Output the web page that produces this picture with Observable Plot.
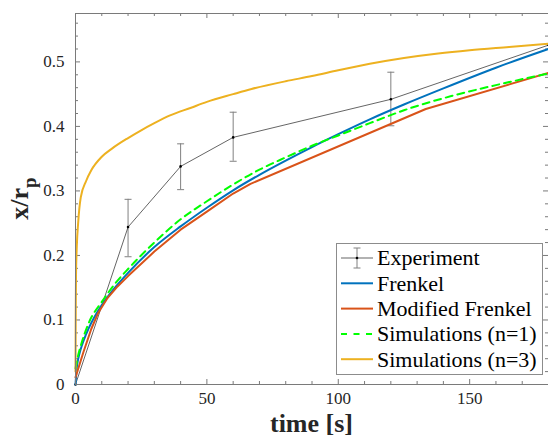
<!DOCTYPE html>
<html><head><meta charset="utf-8">
<script src="https://cdn.jsdelivr.net/npm/d3@7"></script>
<script src="https://cdn.jsdelivr.net/npm/@observablehq/plot@0.6"></script>
<style>body{margin:0;background:#fff} svg{display:block}</style>
</head><body><div id="chart"></div>
<script>
// ---- data ----
const expTime  = [0, 20, 40, 60, 120, 180];
const expValue = [0, 0.244, 0.338, 0.383, 0.442, 0.526];
const expLow   = [0, 0.198, 0.302, 0.346, 0.401, 0.476];
const expHigh  = [0, 0.287, 0.373, 0.422, 0.484, 0.576];

const frenkelTime  = [0, 0.5, 1, 2, 3, 5, 7, 10, 15, 20, 30, 40, 50, 60, 70, 80, 90, 100, 112, 125, 140, 160, 180];
const frenkelValue = [0, 0.027, 0.039, 0.055, 0.067, 0.087, 0.103, 0.123, 0.150, 0.173, 0.213, 0.245, 0.274, 0.301, 0.325, 0.347, 0.368, 0.388, 0.411, 0.434, 0.459, 0.491, 0.520];

const modTime  = [0, 3, 6, 8.5, 12, 16, 20, 30, 40, 50, 60, 66.6, 133.3, 180];
const modValue = [0.011, 0.05, 0.086, 0.11, 0.133, 0.152, 0.168, 0.206, 0.240, 0.268, 0.296, 0.311, 0.427, 0.483];

const sim1Time  = [0, 1, 2, 5, 10, 15, 20, 30, 40, 50, 60, 70, 80, 90, 100, 112, 125, 143, 160, 180];
const sim1Value = [0.025, 0.045, 0.06, 0.095, 0.128, 0.156, 0.179, 0.22, 0.256, 0.284, 0.31, 0.333, 0.352, 0.37, 0.386, 0.405, 0.425, 0.447, 0.464, 0.482];

const sim3Time  = [0, 0.1, 0.2, 0.5, 1, 2, 4, 6, 10, 14, 20, 25, 30, 36, 44, 50, 60, 67, 80, 90, 100, 112, 125, 138, 150, 165, 180];
const sim3Value = [0.02, 0.12, 0.17, 0.215, 0.25, 0.29, 0.315, 0.332, 0.353, 0.366, 0.382, 0.394, 0.405, 0.417, 0.429, 0.438, 0.45, 0.458, 0.47, 0.478, 0.487, 0.497, 0.506, 0.513, 0.518, 0.523, 0.528];

const xMajor = [0, 50, 100, 150];
const xMinor = [10, 20, 30, 40, 60, 70, 80, 90, 110, 120, 130, 140, 160, 170];
const yMajor = [0, 0.1, 0.2, 0.3, 0.4, 0.5];
const yMinor = [0.02, 0.04, 0.06, 0.08, 0.12, 0.14, 0.16, 0.18, 0.22, 0.24, 0.26, 0.28, 0.32, 0.34, 0.36, 0.38, 0.42, 0.44, 0.46, 0.48, 0.52, 0.54, 0.56];

const seriesNames = ["Experiment", "Frenkel", "Modified Frenkel", "Simulations (n=1)", "Simulations (n=3)"];
const seriesColors = ["#000000", "#0072BD", "#D95319", "#00FF00", "#EDB120"];

// ---- layout ----
const W = 548, H = 441, mL = 75, mR = 0, mT = 13, mB = 57;
const innerW = W - mL - mR, innerH = H - mT - mB;
const axisColor = "#7a7a7a";
const font = "'Liberation Serif', serif";

const rows = (ts, vs) => ts.map((t, i) => ({t, v: vs[i]}));
const expRows = expTime.map((t, i) => ({t, v: expValue[i], lo: expLow[i], hi: expHigh[i]}));
const capSymbol = {draw(ctx, size) { const r = Math.sqrt(size / Math.PI); ctx.moveTo(-r, 0); ctx.lineTo(r, 0); }};

const tickMarks = (len, data, dir) => {
  if (dir === "bottom") return Plot.ruleX(data, {x: d => d, insetTop: innerH - len, stroke: axisColor});
  if (dir === "top") return Plot.ruleX(data, {x: d => d, insetBottom: innerH - len, stroke: axisColor});
  if (dir === "left") return Plot.ruleY(data, {y: d => d, insetRight: innerW - len, stroke: axisColor});
  return Plot.ruleY(data, {y: d => d, insetLeft: innerW - len, stroke: axisColor});
};

const plot = Plot.plot({
  width: W, height: H,
  marginLeft: mL, marginRight: mR, marginTop: mT, marginBottom: mB,
  x: {domain: [0, 180]},
  y: {domain: [0, 0.575]},
  style: {fontFamily: font, fontSize: "17px", color: "#262626", background: "#fff"},
  marks: [
    tickMarks(5, xMajor, "bottom"), tickMarks(3, xMinor, "bottom"),
    tickMarks(5, xMajor, "top"), tickMarks(3, xMinor, "top"),
    tickMarks(5, yMajor, "left"), tickMarks(3, yMinor, "left"),
    tickMarks(5, yMajor, "right"), tickMarks(3, yMinor, "right"),
    Plot.axisX(xMajor, {tickSize: 0, tickPadding: 7, label: null, fontSize: 17, fontFamily: font, fill: "#262626", tickFormat: d => String(d)}),
    Plot.axisY(yMajor, {tickSize: 0, tickPadding: 11, label: null, fontSize: 17, fontFamily: font, fill: "#262626", tickFormat: d => String(d)}),
    // experiment
    Plot.ruleX(expRows, {x: "t", y1: "lo", y2: "hi", stroke: "#808080", strokeWidth: 1, clip: true}),
    Plot.dot(expRows, {x: "t", y: "lo", symbol: capSymbol, r: 3.5, stroke: "#808080", strokeWidth: 1, clip: true}),
    Plot.dot(expRows, {x: "t", y: "hi", symbol: capSymbol, r: 3.5, stroke: "#808080", strokeWidth: 1, clip: true}),
    Plot.line(expRows, {x: "t", y: "v", stroke: "#222", strokeWidth: 0.7}),
    Plot.dot(expRows, {x: "t", y: "v", r: 1.3, fill: "#000", stroke: null}),
    // models
    Plot.line(rows(frenkelTime, frenkelValue), {x: "t", y: "v", stroke: seriesColors[1], strokeWidth: 2, curve: "monotone-x"}),
    Plot.line(rows(modTime, modValue), {x: "t", y: "v", stroke: seriesColors[2], strokeWidth: 2}),
    Plot.line(rows(sim1Time, sim1Value), {x: "t", y: "v", stroke: seriesColors[3], strokeWidth: 2, strokeDasharray: "7,5", curve: "monotone-x"}),
    Plot.line(rows(sim3Time, sim3Value), {x: "t", y: "v", stroke: seriesColors[4], strokeWidth: 2, curve: "monotone-x"}),
    Plot.frame({stroke: axisColor, strokeWidth: 1})
  ]
});

const svg = d3.select(plot);
svg.style("font-family", font);

const addText = (sel) => sel.style("font-family", font).attr("text-anchor", "start");

// axis titles
addText(svg.append("text"))
  .attr("x", (mL + W - mR) / 2).attr("y", 432)
  .attr("text-anchor", "middle")
  .style("font-weight", "bold").style("font-size", "26px")
  .attr("fill", "#262626")
  .text("time [s]");

const yl = addText(svg.append("text"))
  .attr("transform", `translate(28, ${mT + innerH / 2}) rotate(-90)`)
  .attr("text-anchor", "middle")
  .style("font-weight", "bold").style("font-size", "26px")
  .attr("fill", "#262626");
yl.append("tspan").text("x/r");
yl.append("tspan").style("font-size", "19px").attr("dy", 8).text("p");

// legend
const lg = svg.append("g");
lg.append("rect").attr("x", 336.5).attr("y", 243.5).attr("width", 206).attr("height", 131)
  .attr("fill", "#fff").attr("stroke", "#8c8c8c").attr("stroke-width", 1);
const rowY = [258, 283.3, 308.6, 333.9, 359.2];
seriesNames.forEach((name, i) => {
  const cy = rowY[i];
  if (i === 0) {
    lg.append("line").attr("x1", 341).attr("x2", 373).attr("y1", cy).attr("y2", cy).attr("stroke", "#222").attr("stroke-width", 0.7);
    lg.append("line").attr("x1", 357).attr("x2", 357).attr("y1", cy - 10).attr("y2", cy + 10).attr("stroke", "#808080");
    lg.append("line").attr("x1", 353.5).attr("x2", 360.5).attr("y1", cy - 10).attr("y2", cy - 10).attr("stroke", "#808080");
    lg.append("line").attr("x1", 353.5).attr("x2", 360.5).attr("y1", cy + 10).attr("y2", cy + 10).attr("stroke", "#808080");
    lg.append("circle").attr("cx", 357).attr("cy", cy).attr("r", 1.3).attr("fill", "#000");
  } else {
    lg.append("line").attr("x1", 341).attr("x2", 373).attr("y1", cy).attr("y2", cy)
      .attr("stroke", seriesColors[i]).attr("stroke-width", 2)
      .attr("stroke-dasharray", i === 3 ? "6,6.5" : null);
  }
  addText(lg.append("text")).attr("x", 377).attr("y", cy + 7.3)
    .style("font-size", "22px").attr("fill", "#000")
    .text(name);
});

document.getElementById("chart").appendChild(plot);
</script>
</body></html>
